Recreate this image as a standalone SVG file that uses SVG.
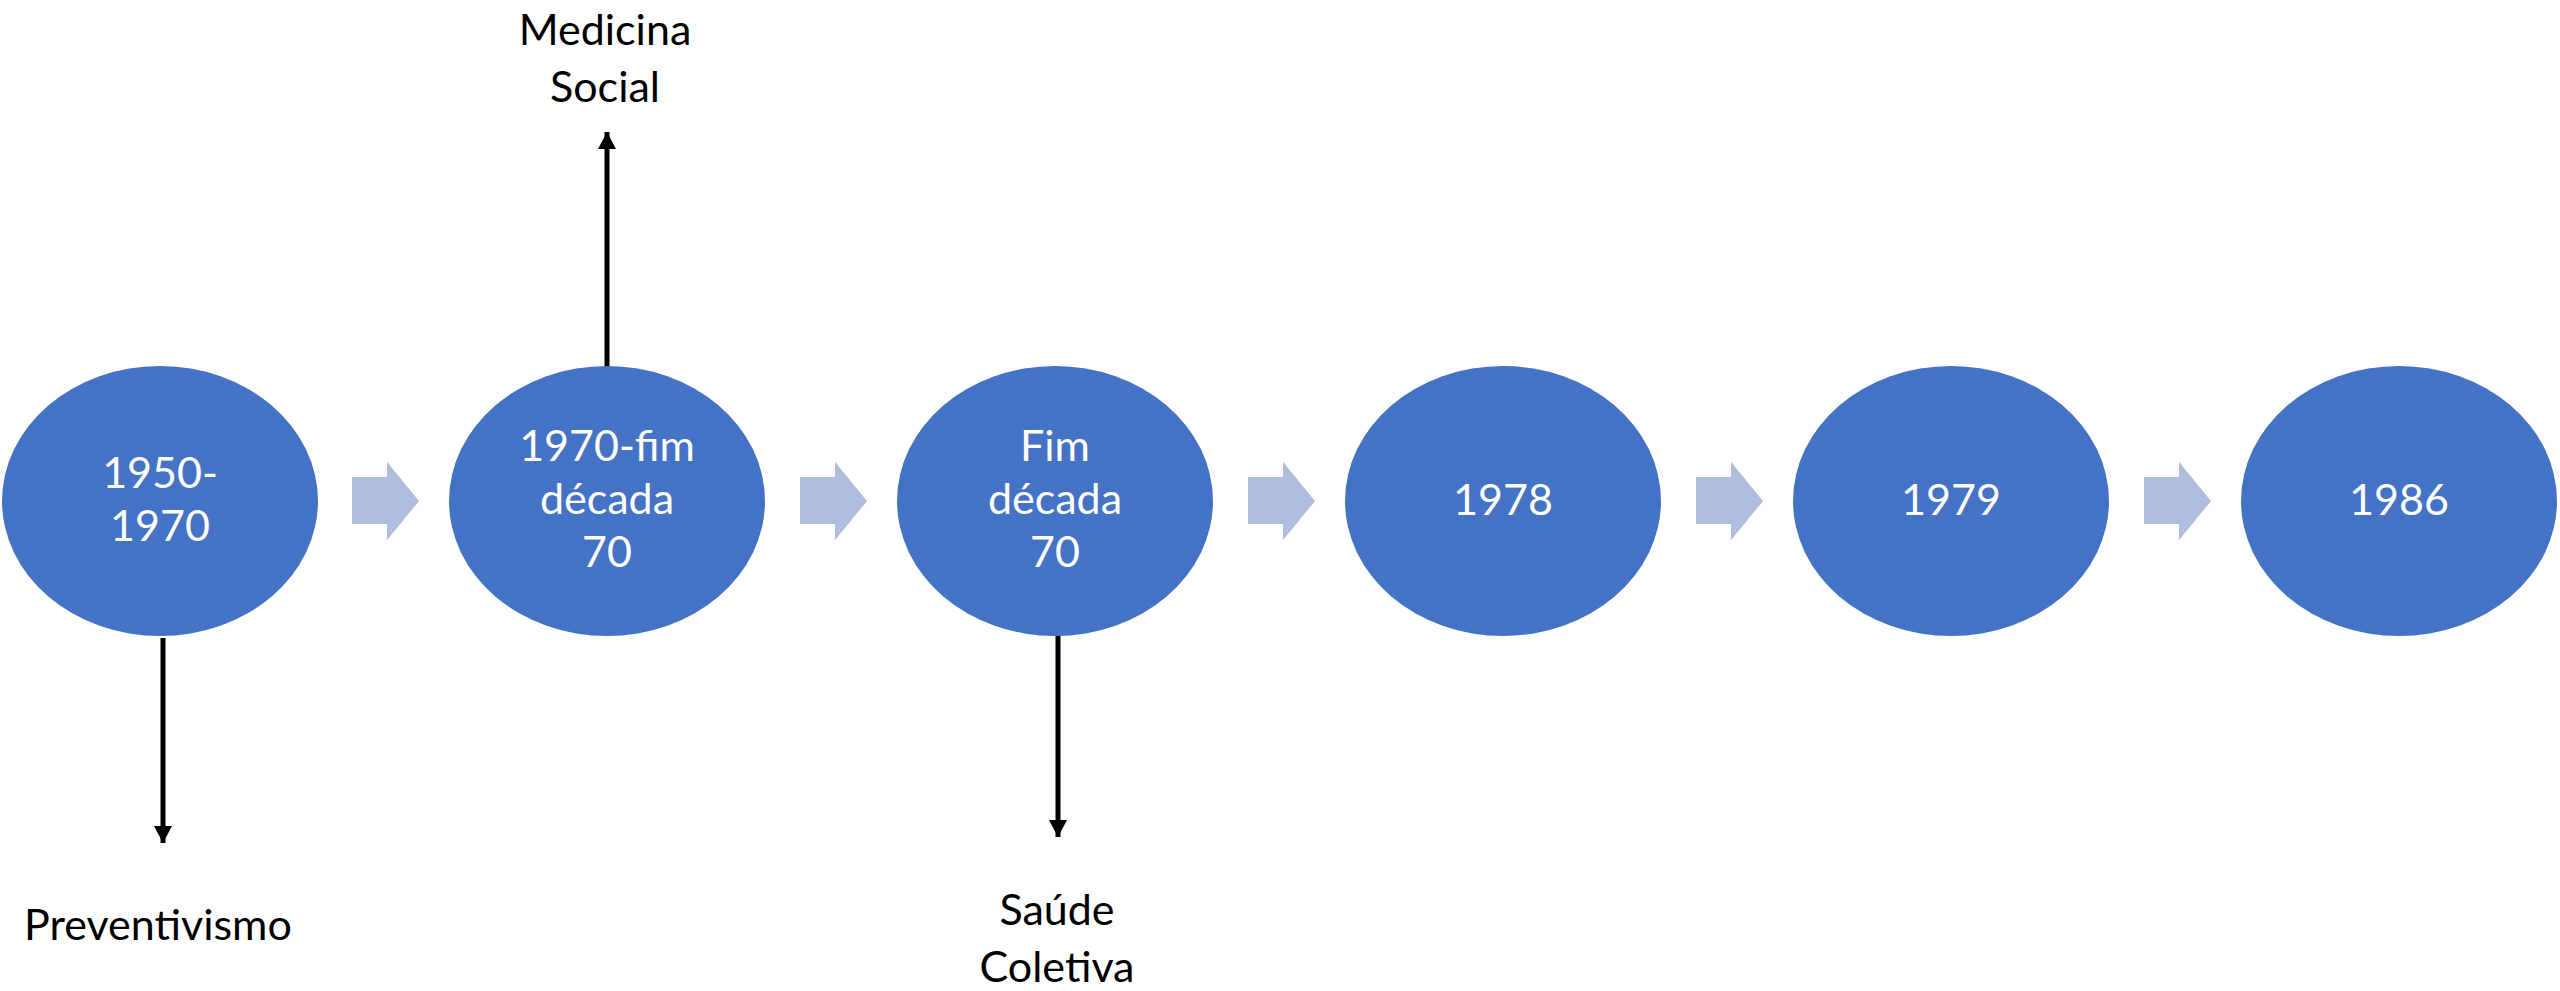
<svg xmlns="http://www.w3.org/2000/svg" width="2560" height="991" viewBox="0 0 2560 991">
<style>
.node{fill:#4472C4}
.nt{fill:#FFFFFF;font-family:Lato,"Open Sans","Liberation Sans",sans-serif;font-size:43px;text-anchor:middle}
.lt{fill:#000000;font-family:Lato,"Open Sans","Liberation Sans",sans-serif;font-size:43px;text-anchor:middle}
.flow{fill:#B0BCDE}
.link{stroke:#000;stroke-width:5;fill:none}
</style>
<defs>
<marker id="ah" markerUnits="userSpaceOnUse" markerWidth="18" markerHeight="18" refX="17" refY="9" orient="auto">
<path d="M0,0 L17,9 L0,18 Z" fill="#000"/>
</marker>
</defs>
<rect width="2560" height="991" fill="#FFFFFF"/>
<g id="connectors">
<path class="flow" d="M352,477 H387 V462 L419,501 L387,540 V524 H352 Z"/>
<path class="flow" d="M800,477 H835 V462 L867,501 L835,540 V524 H800 Z"/>
<path class="flow" d="M1248,477 H1283 V462 L1315,501 L1283,540 V524 H1248 Z"/>
<path class="flow" d="M1696,477 H1731 V462 L1763,501 L1731,540 V524 H1696 Z"/>
<path class="flow" d="M2144,477 H2179 V462 L2211,501 L2179,540 V524 H2144 Z"/>
<line class="link" x1="163" y1="638" x2="163" y2="843" marker-end="url(#ah)"/>
<line class="link" x1="607" y1="368" x2="607" y2="132" marker-end="url(#ah)"/>
<line class="link" x1="1058" y1="632" x2="1058" y2="837" marker-end="url(#ah)"/>
</g>
<g id="n1"><ellipse class="node" cx="160" cy="501" rx="158" ry="135"/>
<text class="nt" x="160" y="488">1950-</text><text class="nt" x="160" y="541">1970</text></g>
<g id="n2"><ellipse class="node" cx="607" cy="501" rx="158" ry="135"/>
<text class="nt" x="607" y="461">1970-fim</text><text class="nt" x="607" y="514">década</text><text class="nt" x="607" y="567">70</text></g>
<g id="n3"><ellipse class="node" cx="1055" cy="501" rx="158" ry="135"/>
<text class="nt" x="1055" y="461">Fim</text><text class="nt" x="1055" y="514">década</text><text class="nt" x="1055" y="567">70</text></g>
<g id="n4"><ellipse class="node" cx="1503" cy="501" rx="158" ry="135"/>
<text class="nt" x="1503" y="515">1978</text></g>
<g id="n5"><ellipse class="node" cx="1951" cy="501" rx="158" ry="135"/>
<text class="nt" x="1951" y="515">1979</text></g>
<g id="n6"><ellipse class="node" cx="2399" cy="501" rx="158" ry="135"/>
<text class="nt" x="2399" y="515">1986</text></g>
<g id="l1"><text class="lt" x="158" y="940">Preventivismo</text></g>
<g id="l2"><text class="lt" x="605" y="45">Medicina</text><text class="lt" x="605" y="102">Social</text></g>
<g id="l3"><text class="lt" x="1057" y="925">Saúde</text><text class="lt" x="1057" y="982">Coletiva</text></g>
</svg>
